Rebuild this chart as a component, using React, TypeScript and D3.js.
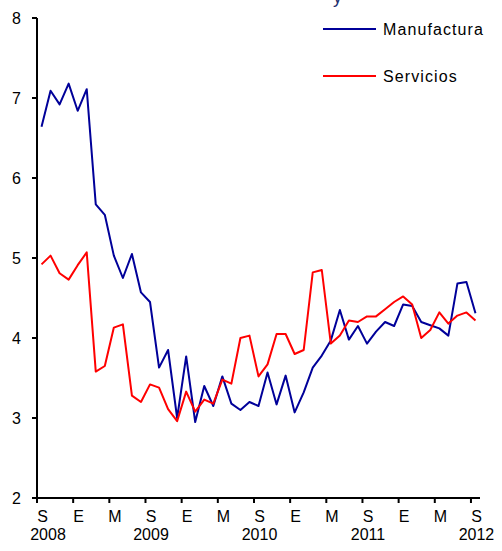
import React from "react";
import * as d3 from "d3";

// monthly, Sep 2008 .. Sep 2012
const months = [
  "S", "O", "N", "D", "E", "F", "M", "A", "M", "J", "J", "A",
  "S", "O", "N", "D", "E", "F", "M", "A", "M", "J", "J", "A",
  "S", "O", "N", "D", "E", "F", "M", "A", "M", "J", "J", "A",
  "S", "O", "N", "D", "E", "F", "M", "A", "M", "J", "J", "A",
  "S",
];
const years = [
  { idx: 0, label: "2008" },
  { idx: 12, label: "2009" },
  { idx: 24, label: "2010" },
  { idx: 36, label: "2011" },
  { idx: 48, label: "2012" },
];

const manufactura = [
  6.64, 7.09, 6.92, 7.18, 6.84, 7.11, 5.67, 5.54, 5.03, 4.75, 5.05, 4.57, 4.45,
  3.63, 3.85, 3.0, 3.77, 2.95, 3.4, 3.15, 3.52, 3.18, 3.1,
  3.2, 3.15, 3.57, 3.17, 3.53, 3.07, 3.32, 3.63, 3.78,
  3.97, 4.35, 3.98, 4.15, 3.93, 4.08, 4.2, 4.15, 4.42, 4.4, 4.2, 4.16, 4.12, 4.03, 4.68, 4.7, 4.31,
];
const servicios = [
  4.92, 5.03, 4.81, 4.73, 4.91, 5.07, 3.58, 3.65, 4.13, 4.17, 3.28, 3.2, 3.42,
  3.38, 3.11, 2.96, 3.33, 3.08, 3.23, 3.18, 3.48, 3.43, 4.0,
  4.03, 3.52, 3.67, 4.05, 4.05, 3.8, 3.85, 4.82, 4.85,
  3.93, 4.03, 4.22, 4.2, 4.27, 4.27, 4.36, 4.45, 4.52, 4.42, 4.0, 4.1, 4.32, 4.18, 4.28, 4.32, 4.22,
];
const yTicks = [2, 3, 4, 5, 6, 7, 8];

const series = [
  { name: "Manufactura", values: manufactura, color: "#000099" },
  { name: "Servicios", values: servicios, color: "#FF0000" },
];

export default function App() {
  const width = 502;
  const height = 551;
  const left = 37;
  const right = 480;
  const top = 18;
  const bottom = 498;
  const font = "'Liberation Sans', Arial, sans-serif";

  const x = d3
    .scaleBand<number>()
    .domain(months.map((_, i) => i))
    .range([left, right]);
  const cx = (i: number) => (x(i) as number) + x.bandwidth() / 2;
  const y = d3.scaleLinear().domain([2, 8]).range([bottom, top]);

  const line = d3
    .line<number>()
    .x((_, i) => cx(i))
    .y((d) => y(d));

  return (
    <svg
      width={width}
      height={height}
      style={{ position: "absolute", left: 0, top: 0, background: "#fff" }}
      fontFamily={font}
    >
      {/* title, cut off at the top like in the source */}
      <text x={333} y={3} fontSize={18} fill="#1F2F6E">
        y
      </text>

      {/* y axis */}
      <line x1={left} x2={left} y1={top} y2={bottom} stroke="#000" strokeWidth={2} />
      {yTicks.map((t) => (
        <g key={t}>
          <line x1={left - 5} x2={left} y1={y(t)} y2={y(t)} stroke="#000" strokeWidth={2} />
          <text x={21} y={y(t) + 6} fontSize={16} textAnchor="end" fill="#000">
            {t}
          </text>
        </g>
      ))}

      {/* x axis */}
      <line x1={left} x2={right} y1={bottom} y2={bottom} stroke="#000" strokeWidth={2} />
      {months.map((m, i) =>
        i % 4 === 0 ? (
          <g key={i}>
            <line
              x1={x(i) as number}
              x2={x(i) as number}
              y1={bottom}
              y2={bottom + 5}
              stroke="#000"
              strokeWidth={2}
            />
            <text x={cx(i) + 1} y={522} fontSize={16} textAnchor="middle" fill="#000">
              {m}
            </text>
          </g>
        ) : null
      )}
      {years.map((yr) => {
        const c = Math.min(Math.max(cx(yr.idx) + 1, 48), 480);
        return (
          <text key={yr.label} x={c} y={540} fontSize={16} textAnchor="middle" fill="#000">
            {yr.label}
          </text>
        );
      })}

      {/* lines */}
      {series.map((s) => (
        <path
          key={s.name}
          d={line(s.values) || ""}
          fill="none"
          stroke={s.color}
          strokeWidth={2}
          strokeLinejoin="round"
        />
      ))}

      {/* legend */}
      {series.map((s, i) => (
        <g key={s.name} transform={`translate(0, ${i * 47})`}>
          <line x1={323} x2={376} y1={29} y2={29} stroke={s.color} strokeWidth={2} />
          <text x={383} y={35} fontSize={16} letterSpacing={1.1} fill="#000">
            {s.name}
          </text>
        </g>
      ))}
    </svg>
  );
}
